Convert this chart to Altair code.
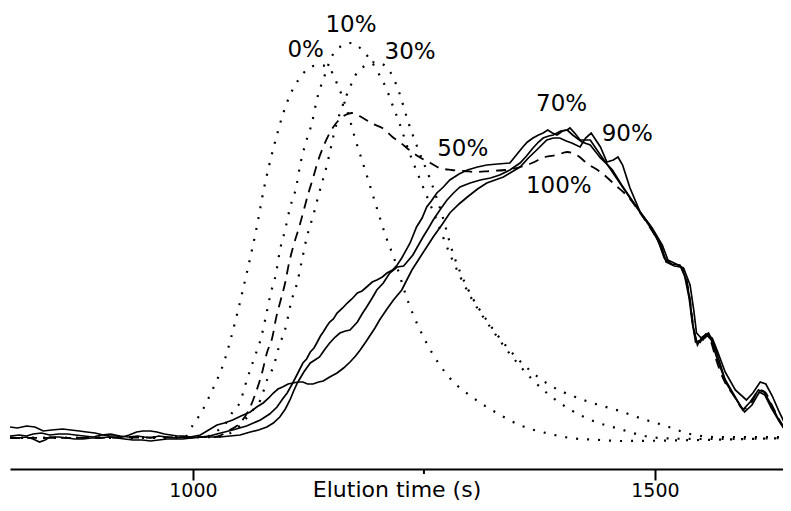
import altair as alt
import pandas as pd

# ---------------- data (elution time in s, detector signal in a.u.) ----------------
t_0 = [802, 899, 991, 1000, 1008, 1020, 1034, 1047, 1058, 1068, 1077, 1088, 1102, 1114, 1123, 1136, 1146, 1157,
       1166, 1176, 1187, 1198, 1209, 1218, 1233, 1254, 1277, 1302, 1329, 1356, 1382, 1409, 1441, 1462, 1549, 1646]
v_0 = [31, 31, 32, 44, 55, 77, 108, 152, 195, 237, 281, 324, 367, 389, 399, 404, 402, 383,
       361, 329, 297, 264, 232, 210, 167, 124, 92, 72, 56, 43, 36, 31, 29, 28, 29, 31]

t_10 = [802, 1013, 1024, 1035, 1043, 1051, 1058, 1066, 1074, 1079, 1084, 1090, 1094, 1100, 1105, 1112, 1116, 1122,
        1129, 1134, 1142, 1150, 1159, 1172, 1183, 1192, 1200, 1209, 1216, 1223, 1234, 1246, 1261, 1279, 1300, 1324,
        1352, 1383, 1409, 1436, 1462, 1489, 1505, 1549, 1646]
v_10 = [31, 32, 37, 45, 57, 67, 88, 110, 132, 153, 175, 196, 218, 240, 261, 283, 304, 326,
        347, 369, 392, 412, 422, 426, 419, 409, 397, 381, 364, 347, 317, 289, 255, 213, 173, 139,
        105, 76, 59, 47, 40, 33, 31, 30, 31]

t_30 = [802, 1024, 1046, 1056, 1065, 1073, 1081, 1087, 1093, 1101, 1106, 1113, 1118, 1123, 1130, 1136, 1145, 1155,
        1161, 1170, 1176, 1188, 1198, 1208, 1217, 1223, 1233, 1244, 1257, 1270, 1281, 1291, 1302, 1317, 1338, 1363,
        1386, 1411, 1436, 1462, 1487, 1512, 1538, 1565, 1646]
v_30 = [31, 32, 39, 49, 59, 69, 91, 102, 122, 144, 166, 187, 209, 231, 253, 274, 304, 344,
        361, 382, 394, 404, 407, 403, 391, 377, 347, 319, 289, 253, 217, 193, 172, 150, 124, 100,
        84, 73, 65, 58, 50, 43, 35, 32, 32]

t_50 = [802, 1024, 1040, 1051, 1062, 1069, 1075, 1080, 1086, 1090, 1095, 1100, 1104, 1109, 1115, 1120, 1125, 1130,
        1135, 1141, 1148, 1156, 1165, 1172, 1184, 1195, 1205, 1216, 1225, 1237, 1245, 1257, 1267, 1280, 1294, 1307,
        1321, 1338, 1354, 1367, 1381, 1394, 1405, 1417, 1426, 1441, 1457, 1473, 1484, 1495, 1505, 1512, 1520, 1528,
        1534, 1538, 1542, 1547, 1553, 1560, 1566, 1574, 1585, 1596, 1604, 1613, 1619, 1627, 1636, 1646]
v_50 = [31, 32, 39, 46, 62, 79, 97, 116, 132, 151, 169, 187, 206, 224, 242, 259, 276, 291,
        307, 322, 336, 347, 354, 356, 351, 345, 341, 332, 326, 317, 312, 306, 301, 299, 298, 297,
        298, 299, 302, 306, 312, 314, 317, 313, 306, 297, 284, 270, 256, 241, 225, 209, 204, 202,
        190, 168, 140, 125, 132, 128, 110, 90, 74, 60, 66, 79, 77, 63, 47, 33]

t_70 = [802, 812, 820, 827, 836, 845, 855, 864, 873, 882, 892, 901, 911, 921, 930, 940, 954, 963, 972, 982,
        990, 997, 1008, 1018, 1030, 1043, 1058, 1073, 1083, 1091, 1097, 1102, 1108, 1113, 1119, 1123, 1127, 1131,
        1134, 1138, 1141, 1145, 1148, 1152, 1156, 1162, 1167, 1172, 1178, 1183, 1188, 1194, 1199, 1205, 1210, 1216,
        1221, 1226, 1235, 1242, 1248, 1253, 1258, 1264, 1271, 1278, 1288, 1297, 1308, 1318, 1330, 1343, 1350, 1357,
        1362, 1368, 1374, 1379, 1384, 1389, 1394, 1400, 1405, 1411, 1421, 1430, 1441, 1447, 1454, 1464, 1475, 1486,
        1497, 1507, 1512, 1521, 1528, 1534, 1538, 1541, 1546, 1551, 1558, 1563, 1570, 1577, 1587, 1597, 1605, 1613,
        1619, 1626, 1635, 1646]
v_70 = [33, 34, 33, 35, 36, 34, 35, 35, 34, 33, 32, 34, 35, 33, 32, 33, 31, 33, 32, 31,
        32, 31, 32, 33, 36, 39, 43, 49, 55, 62, 70, 76, 86, 95, 106, 110, 117, 121,
        126, 133, 137, 143, 147, 150, 156, 161, 166, 170, 176, 178, 182, 187, 189, 192, 196, 199,
        204, 211, 226, 242, 251, 262, 268, 276, 282, 289, 295, 299, 302, 304, 305, 306, 314, 322,
        327, 331, 334, 336, 339, 336, 334, 338, 339, 334, 327, 324, 311, 306, 299, 284, 269, 254,
        239, 223, 207, 203, 202, 189, 169, 144, 124, 132, 136, 127, 107, 86, 71, 57, 64, 77,
        74, 61, 47, 32]

t_90 = [802, 810, 820, 829, 838, 847, 859, 868, 877, 885, 894, 903, 910, 917, 924, 931, 939, 946, 954, 961,
        969, 976, 983, 990, 997, 1008, 1017, 1026, 1034, 1043, 1052, 1062, 1069, 1076, 1082, 1087, 1092, 1097,
        1103, 1108, 1114, 1119, 1124, 1130, 1136, 1141, 1148, 1156, 1163, 1170, 1176, 1181, 1187, 1192, 1197, 1202,
        1210, 1217, 1226, 1232, 1237, 1246, 1253, 1260, 1270, 1278, 1288, 1297, 1308, 1318, 1327, 1336, 1345, 1354,
        1363, 1372, 1383, 1390, 1397, 1404, 1410, 1419, 1425, 1431, 1441, 1448, 1455, 1460, 1465, 1473, 1484, 1497,
        1508, 1514, 1523, 1531, 1538, 1542, 1545, 1552, 1556, 1562, 1568, 1576, 1587, 1599, 1606, 1614, 1620, 1627,
        1635, 1643, 1646]
v_90 = [42, 41, 43, 42, 38, 39, 40, 39, 38, 37, 36, 34, 33, 33, 32, 34, 37, 38, 38, 37,
        35, 34, 33, 33, 32, 34, 39, 44, 46, 49, 53, 57, 62, 66, 71, 76, 80, 82,
        85, 86, 87, 87, 85, 85, 87, 88, 92, 96, 101, 107, 113, 119, 127, 134, 141, 149,
        160, 169, 179, 190, 199, 212, 222, 232, 245, 256, 265, 272, 280, 286, 289, 292, 297, 302,
        311, 319, 329, 331, 331, 328, 326, 322, 331, 336, 322, 307, 309, 312, 304, 281, 257, 241,
        224, 209, 205, 201, 184, 159, 136, 129, 134, 131, 117, 97, 79, 69, 76, 87, 85, 73,
        56, 41, 35]

t_100 = [802, 812, 820, 827, 834, 840, 845, 855, 864, 872, 881, 890, 900, 909, 918, 926, 935, 945, 954, 963,
         972, 980, 989, 998, 1008, 1018, 1029, 1040, 1051, 1062, 1071, 1080, 1087, 1094, 1100, 1105, 1109, 1113,
         1120, 1127, 1132, 1137, 1143, 1148, 1154, 1159, 1165, 1170, 1174, 1178, 1183, 1188, 1194, 1199, 1206, 1213,
         1221, 1228, 1238, 1249, 1255, 1260, 1268, 1275, 1282, 1289, 1300, 1311, 1322, 1332, 1343, 1354, 1361, 1368,
         1374, 1379, 1385, 1390, 1398, 1405, 1408, 1414, 1419, 1430, 1441, 1451, 1462, 1473, 1484, 1495, 1504, 1510,
         1518, 1527, 1532, 1537, 1540, 1544, 1550, 1555, 1561, 1567, 1575, 1585, 1595, 1603, 1612, 1618, 1626, 1634,
         1646]
v_100 = [32, 31, 32, 30, 27, 29, 32, 32, 31, 30, 30, 31, 31, 32, 31, 30, 29, 29, 28, 29,
         30, 30, 30, 31, 32, 32, 32, 33, 34, 37, 39, 42, 46, 52, 60, 69, 78, 86,
         97, 106, 109, 112, 120, 126, 132, 136, 138, 139, 143, 147, 155, 162, 171, 179, 186, 196,
         202, 203, 214, 232, 241, 249, 260, 269, 276, 282, 286, 289, 291, 294, 299, 306, 313, 321,
         327, 331, 333, 334, 338, 339, 341, 335, 329, 329, 314, 301, 286, 271, 257, 243, 227, 211,
         205, 204, 194, 171, 149, 127, 129, 135, 129, 111, 91, 75, 59, 67, 79, 77, 64, 49,
         31]

# curve labels
label_text = ["0%", "10%", "30%", "50%", "70%", "90%", "100%"]
label_time = [1122, 1171, 1235, 1292, 1399, 1470, 1396]
label_signal = [419, 444, 417, 320, 365, 335, 283]

major_ticks = [1000, 1500]
minor_ticks = [1250]

series = [
    ("0%", "dotted", t_0, v_0),
    ("10%", "dotted", t_10, v_10),
    ("30%", "dotted", t_30, v_30),
    ("50%", "dashed", t_50, v_50),
    ("70%", "solid", t_70, v_70),
    ("90%", "solid", t_90, v_90),
    ("100%", "solid", t_100, v_100),
]
rows = []
for name, style, ts, vs in series:
    for t, v in zip(ts, vs):
        rows.append({"time": t, "signal": v, "series": name, "style": style})
df = pd.DataFrame(rows)

labels_df = pd.DataFrame({"text": label_text, "time": label_time, "signal": label_signal})
minor_df = pd.DataFrame({"time": minor_ticks})

FONT = "DejaVu Sans"

x_enc = alt.X(
    "time:Q",
    scale=alt.Scale(domain=[802, 1638.6], nice=False, zero=False),
    axis=alt.Axis(
        values=major_ticks,
        format="d",
        title="Elution time (s)",
        grid=False,
        domainColor="black",
        domainWidth=2,
        tickColor="black",
        tickWidth=2,
        tickSize=11,
        labelFont=FONT,
        labelFontSize=19,
        labelColor="black",
        labelBaseline="alphabetic",
        labelPadding=16,
        titleFont=FONT,
        titleFontSize=22,
        titleFontWeight="normal",
        titleColor="black",
        titleBaseline="alphabetic",
        titleY=27,
    ),
)
y_enc = alt.Y("signal:Q", scale=alt.Scale(domain=[0, 461], nice=False, zero=False), axis=None)

base = alt.Chart(df)

dotted = base.transform_filter(alt.datum.style == "dotted").mark_line(
    color="black", strokeWidth=2.2, strokeDash=[2, 9], strokeCap="butt", interpolate="monotone", clip=True
).encode(x=x_enc, y=y_enc, detail="series:N")

dashed = base.transform_filter(alt.datum.style == "dashed").mark_line(
    color="black", strokeWidth=1.8, strokeDash=[10, 7], interpolate="monotone", clip=True
).encode(x=x_enc, y=y_enc, detail="series:N")

solid = base.transform_filter(alt.datum.style == "solid").mark_line(
    color="black", strokeWidth=1.7, interpolate="linear", clip=True
).encode(x=x_enc, y=y_enc, detail="series:N")

minor = alt.Chart(minor_df).mark_rule(color="black", strokeWidth=2).encode(
    x=x_enc, y=alt.value(461), y2=alt.value(466)
)

labels = alt.Chart(labels_df).mark_text(
    font=FONT, fontSize=23, color="black", align="center", baseline="middle"
).encode(x=x_enc, y=y_enc, text="text:N")

chart = (
    alt.layer(dotted, dashed, solid, minor, labels)
    .properties(
        width=773,
        height=461,
        autosize=alt.AutoSizeParams(type="none"),
        padding={"left": 2, "top": 0, "right": 0, "bottom": 34},
    )
    .configure_view(stroke=None)
)

chart.save("out.html", embed_options={"renderer": "svg", "actions": False})
